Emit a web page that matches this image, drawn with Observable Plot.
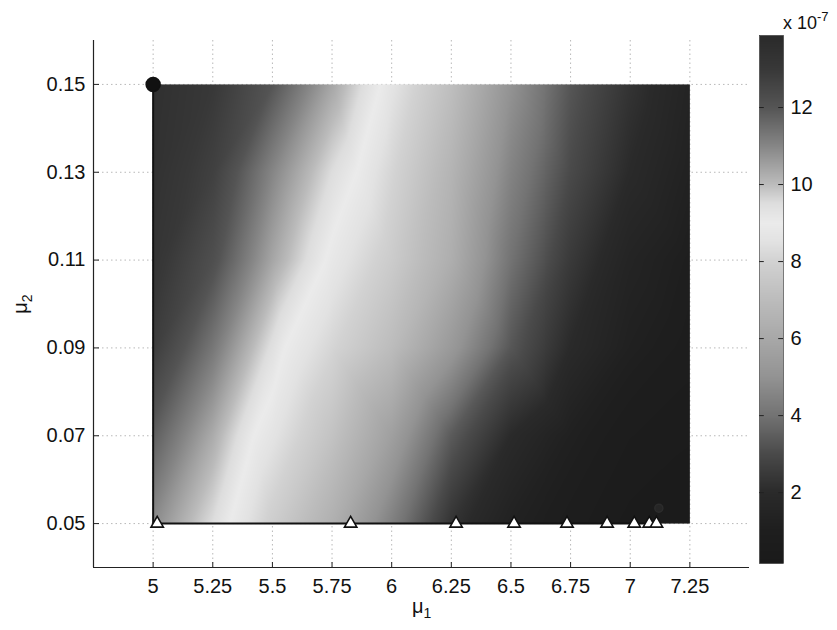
<!DOCTYPE html>
<html><head><meta charset="utf-8">
<script src="https://cdn.jsdelivr.net/npm/d3@7"></script>
<script src="https://cdn.jsdelivr.net/npm/@observablehq/plot@0.6"></script>
<style>
body{margin:0;background:#fff;font-family:"Liberation Sans",Arial,sans-serif;}
#root{position:relative;width:837px;height:630px;overflow:hidden;background:#fff;}
.abs{position:absolute;}
.lbl{font-size:20px;color:#111;white-space:nowrap;line-height:1;}
.lbl sub{font-size:14px;vertical-align:-5px;}
.lbl sup{font-size:13px;vertical-align:8px;}
</style></head><body><div id="root"></div>
<script>
// ---- data (values in units of 1e-7) ----
const mu1Grid = [5, 5.25, 5.5, 5.75, 6, 6.25, 6.5, 6.75, 7, 7.25];
const mu2Grid = [0.05, 0.07, 0.09, 0.11, 0.13, 0.15];
const row005 = [10.9, 9.5, 7.8, 6.4, 4.4, 2.3, 1.3, 0.8, 0.4, 0.3];
const row007 = [11.8, 10.3, 8.6, 7.3, 5.6, 3.4, 2.0, 1.2, 0.7, 0.5];
const row009 = [12.8, 11.3, 9.4, 8.1, 7.0, 5.3, 3.3, 2.0, 1.2, 0.8];
const row011 = [13.2, 12.2, 10.4, 8.8, 7.7, 6.3, 4.0, 2.5, 1.5, 1.0];
const row013 = [13.4, 12.7, 11.0, 9.5, 8.1, 6.6, 4.5, 3.0, 2.0, 1.3];
const row015 = [13.5, 13.0, 12.0, 10.4, 8.6, 7.1, 5.0, 3.3, 2.3, 1.5];
const ridgeMu1 = [5.32, 5.42, 5.55, 5.72, 5.85, 5.95];
const ridgeValue = [9.0, 9.0, 9.0, 9.0, 9.0, 9.0];

const pathMu1 = [5, 5, 7.1];
const pathMu2 = [0.15, 0.05, 0.05];
const startMu1 = [5];
const startMu2 = [0.15];
const triMu1 = [5.017, 5.828, 6.27, 6.513, 6.735, 6.903, 7.017, 7.08, 7.11];
const triMu2 = [0.05, 0.05, 0.05, 0.05, 0.05, 0.05, 0.05, 0.05, 0.05];
const endMu1 = [7.12];
const endMu2 = [0.0535];

const mu1Ticks = [5, 5.25, 5.5, 5.75, 6, 6.25, 6.5, 6.75, 7, 7.25];
const mu2Ticks = [0.05, 0.07, 0.09, 0.11, 0.13, 0.15];
const cbTicks = [2, 4, 6, 8, 10, 12];
const cbMin = 0.16, cbMax = 13.87;

const cmapDomain = [0.16, 1, 2, 3, 4, 5, 6, 7, 8, 8.5, 9, 9.5, 10, 11, 12, 13, 13.87];
const cmapRange = ["#1a1a1a","#1e1e1e","#2a2a2a","#4a4a4a","#737373","#939393","#a8a8a8","#bcbcbc","#d2d2d2","#e2e2e2","#ebebeb","#dedede","#bcbcbc","#868686","#555555","#383838","#2a2a2a"];

// ---- build table ----
const rows = [row005, row007, row009, row011, row013, row015];
const field = [];
mu2Grid.forEach((m2, i) => {
  mu1Grid.forEach((m1, j) => field.push({mu1: m1, mu2: m2, v: rows[i][j]}));
  field.push({mu1: ridgeMu1[i], mu2: m2, v: ridgeValue[i]});
});
const path = pathMu1.map((m, i) => ({mu1: m, mu2: pathMu2[i]}));
const start = startMu1.map((m, i) => ({mu1: m, mu2: startMu2[i]}));
const tris = triMu1.map((m, i) => ({mu1: m, mu2: triMu2[i]}));
const ends = endMu1.map((m, i) => ({mu1: m, mu2: endMu2[i]}));

const font = '"Liberation Sans", Arial, sans-serif';
const colorOpts = {type: "linear", domain: cmapDomain, range: cmapRange, clamp: true};
const fmt = d => String(d);

const main = Plot.plot({
  width: 760, height: 630,
  marginLeft: 93, marginRight: 11, marginTop: 40, marginBottom: 63,
  x: {domain: [4.75, 7.5], label: null},
  y: {domain: [0.04, 0.16], label: null},
  color: colorOpts,
  style: {fontFamily: font, fontSize: "20px", color: "#111", background: "transparent", overflow: "visible"},
  marks: [
    Plot.ruleX(mu1Ticks, {stroke: "#b8b8b8", strokeDasharray: "1.5,3", strokeWidth: 1}),
    Plot.ruleY(mu2Ticks, {stroke: "#b8b8b8", strokeDasharray: "1.5,3", strokeWidth: 1}),
    Plot.raster(field, {x: "mu1", y: "mu2", fill: "v", interpolate: "barycentric", x1: 5, x2: 7.25, y1: 0.05, y2: 0.15, pixelSize: 1}),
    Plot.line(path, {x: "mu1", y: "mu2", stroke: "#111", strokeWidth: 2}),
    Plot.dot(ends, {x: "mu1", y: "mu2", r: 4, fill: "#262626", stroke: "#2c2c2c"}),
    Plot.dot(start, {x: "mu1", y: "mu2", r: 7, fill: "#111", stroke: "#111"}),
    Plot.dot(tris, {x: "mu1", y: "mu2", symbol: "triangle", r: 4.6, fill: "white", stroke: "#111", strokeWidth: 1.6}),
    Plot.ruleX([4.75], {stroke: "#222", strokeWidth: 1.2}),
    Plot.ruleY([0.04], {stroke: "#222", strokeWidth: 1.2}),
    Plot.axisX(mu1Ticks, {tickSize: -5, tickPadding: 16, tickFormat: fmt, label: null, fontSize: 20, stroke: "#222"}),
    Plot.axisY(mu2Ticks, {tickSize: -6, tickPadding: 14, tickFormat: fmt, label: null, fontSize: 20, stroke: "#222"})
  ]
});

const cb = Plot.plot({
  width: 97, height: 630,
  marginLeft: 19, marginRight: 54, marginTop: 35, marginBottom: 67,
  x: {domain: [0, 1], axis: null},
  y: {domain: [cbMin, cbMax], label: null},
  color: colorOpts,
  style: {fontFamily: font, fontSize: "20px", color: "#111", background: "transparent", overflow: "visible"},
  marks: [
    Plot.raster({fill: (x, y) => y, x1: 0, x2: 1, y1: cbMin, y2: cbMax, pixelSize: 1}),
    Plot.ruleY(cbTicks, {x1: 0, x2: 0.2, stroke: "#222"}),
    Plot.ruleY(cbTicks, {x1: 0.8, x2: 1, stroke: "#222"}),
    Plot.axisY(cbTicks, {anchor: "right", tickSize: 0, tickPadding: 7, tickFormat: fmt, label: null, fontSize: 20}),
    Plot.frame({stroke: "#333", strokeWidth: 0.6})
  ]
});

const root = document.getElementById("root");
main.classList.add("abs"); main.style.left = "0px"; main.style.top = "0px";
cb.classList.add("abs"); cb.style.left = "740px"; cb.style.top = "0px";
root.appendChild(main);
root.appendChild(cb);

function addLabel(html, css) {
  const d = document.createElement("div");
  d.className = "abs lbl";
  d.innerHTML = html;
  Object.assign(d.style, css);
  root.appendChild(d);
  return d;
}
addLabel("μ<sub>1</sub>", {left: "412px", top: "596px"});
addLabel("μ<sub>2</sub>", {left: "12px", top: "292px", transform: "rotate(-90deg)", transformOrigin: "center"});
addLabel("x 10<sup>-7</sup>", {left: "783px", top: "10px", fontSize: "18px"});
</script></body></html>
